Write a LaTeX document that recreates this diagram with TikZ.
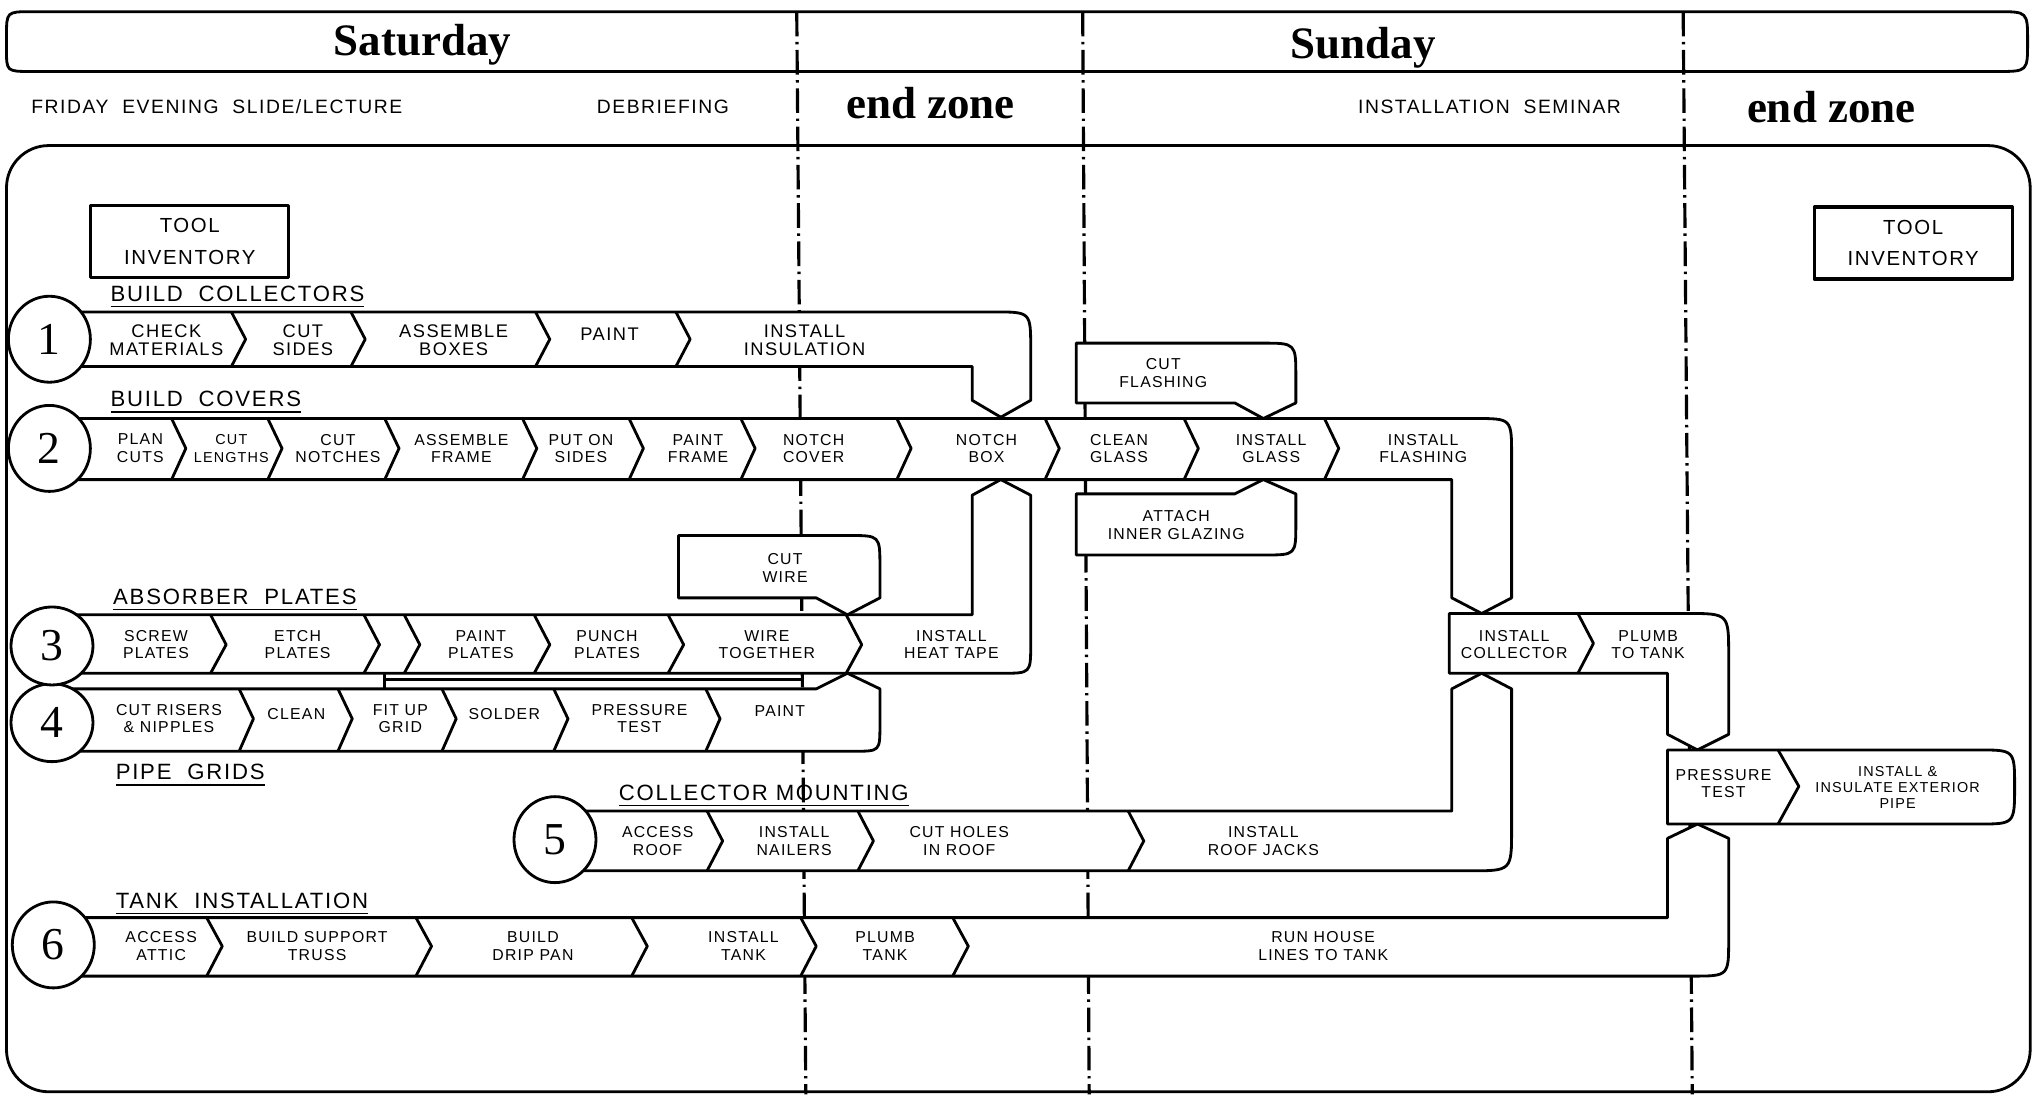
\documentclass[tikz,border=0pt]{standalone}
\usepackage{fontspec}
\usetikzlibrary{shapes.geometric}
\newfontfamily\handfont[LetterSpace=8]{Liberation Sans}
\newfontfamily\dayfont{Liberation Serif}

\begin{document}
\begin{tikzpicture}[x=0.013cm, y=-0.013cm, line width=0.8pt, line join=round,
  band/.style={draw, fill=white},
  zoneline/.style={line width=0.9pt, dash pattern=on 7pt off 1.6pt on 0.7pt off 1.6pt},
  task/.style={font=\handfont\fontsize{4.5}{5}\selectfont, align=center, inner sep=0pt},
  bigtask/.style={task, font=\handfont\fontsize{5.2}{5.1}\selectfont},
  smalltask/.style={task, font=\handfont\fontsize{4.1}{5}\selectfont},
  heading/.style={font=\handfont\fontsize{6.3}{7}\selectfont, anchor=base west, inner sep=0pt},
  toptext/.style={font=\handfont\fontsize{5.5}{7}\selectfont, inner sep=0pt},
  dayname/.style={font=\dayfont\bfseries\fontsize{12.8}{14}\selectfont, anchor=base, inner sep=0pt},
  num/.style={draw, fill=white, ellipse, minimum width=0.82cm, minimum height=0.86cm,
              inner sep=0pt, font=\dayfont\fontsize{13}{13}\selectfont},
  tool/.style={draw, line width=0.9pt, minimum width=1.98cm, minimum height=0.72cm,
               align=center, font=\handfont\fontsize{5.8}{9}\selectfont}]
\useasboundingbox (0,0) rectangle (1568,842);
% day band and work area
\draw (24,9) -- (1537,9) .. controls (1560,9) .. (1560,32) .. controls (1560,55) .. (1537,55)
  -- (24,55) .. controls (5,55) .. (5,38) -- (5,28) .. controls (5,9) .. (24,9) -- cycle;
\draw[rounded corners=12pt] (5,112) rectangle (1562,840);
\foreach \a/\b in {613/620, 833/838, 1295/1302}
  \draw[zoneline] (\a,9) -- (\b,842);
\node[dayname] (sat) at (325,43) {Saturday};
\node[dayname] (sun) at (1049,45) {Sunday};
\node[dayname] (endzone1) at (716,91) {end zone};
\node[dayname] (endzone2) at (1409,94) {end zone};
\node[toptext, anchor=west] (friday) at (23,82) {FRIDAY~~EVENING~~SLIDE/LECTURE};
\node[toptext] (debrief) at (510,82) {DEBRIEFING};
\node[toptext] (seminar) at (1146,82) {INSTALLATION~~SEMINAR};
\node[tool] (toolL) at (146,186) {TOOL\\INVENTORY};
\node[tool] (toolR) at (1472,187) {TOOL\\INVENTORY};

% bands
\draw[band] (38,322) -- (1135,322) .. controls (1163,322) .. (1163,350) -- (1163,460)
  -- (1140,472) -- (1117,460) -- (1117,369) -- (38,369) -- cycle;
\draw[band] (38,240) -- (765,240) .. controls (793,240) .. (793,268) -- (793,308)
  -- (770,321) -- (748,308) -- (748,282) -- (38,282) -- cycle;
\draw[band] (40,473) -- (748,473) -- (748,381) -- (770,369) -- (793,381) -- (793,496)
  .. controls (793,518) .. (771,518) -- (40,518) -- cycle;
\draw[band] (40,530) -- (628,530) -- (652,518) -- (677,530) -- (677,558)
  .. controls (677,578) .. (657,578) -- (40,578) -- cycle;
\draw (296,518) -- (296,530) (296,523) -- (618,523);
\draw[band] (522,412) -- (653,412) .. controls (677,412) .. (677,436) -- (677,460)
  -- (652,473) -- (628,460) -- (522,460) -- cycle;
\draw[band] (828,264) -- (971,264) .. controls (997,264) .. (997,290) -- (997,310)
  -- (972,322) -- (950,310) -- (828,310) -- cycle;
\draw[band] (828,380) -- (950,380) -- (972,369) -- (997,380) -- (997,403)
  .. controls (997,427) .. (973,427) -- (828,427) -- cycle;
\draw[band] (427,624) -- (1117,624) -- (1117,530) -- (1140,518) -- (1163,530) -- (1163,638)
  .. controls (1163,670) .. (1131,670) -- (427,670) -- cycle;
\draw[band] (40,706) -- (1283,706) -- (1283,645) -- (1306,634) -- (1330,645) -- (1330,723)
  .. controls (1330,751) .. (1302,751) -- (40,751) -- cycle;
\draw[band] (1115,472) -- (1298,472) .. controls (1330,472) .. (1330,504) -- (1330,565)
  -- (1306,577) -- (1283,565) -- (1283,518) -- (1115,518) -- cycle;
\draw[band] (1283,577) -- (1522,577) .. controls (1550,577) .. (1550,605)
  .. controls (1550,634) .. (1522,634) -- (1283,634) -- cycle;

% chevrons between tasks
\foreach \x in {178,270,412,520}
  \draw (\x,240) -- (\x+11,261) -- (\x,282);
\foreach \x in {132,206,296,402,484,570,690,804,911,1019}
  \draw (\x,322) -- (\x+11,345) -- (\x,369);
\foreach \x in {162,280,311,411,514,651}
  \draw (\x,473) -- (\x+12,496) -- (\x,518);
\foreach \x in {184,260,340,426,543}
  \draw (\x,530) -- (\x+11,553) -- (\x,578);
\foreach \x in {544,660,868}
  \draw (\x,624) -- (\x+12,647) -- (\x,670);
\foreach \x in {159,320,486,616,733}
  \draw (\x,706) -- (\x+12,728) -- (\x,751);
\draw (1214,472) -- (1226,495) -- (1214,518);
\draw (1368,577) -- (1384,605) -- (1368,634);

% numbers and headings
\node[num] (c1) at (38,261) {1};
\node[num] (c2) at (38,345) {2};
\node[num, minimum height=0.78cm] (c4) at (40,556) {4};
\node[num, minimum height=0.78cm] (c3) at (40,497) {3};
\node[num] (c5) at (427,646) {5};
\node[num] (c6) at (41,727) {6};
\foreach \n/\x/\y/\t in {bc/84/232/BUILD~~COLLECTORS, bv/84/313/BUILD~~COVERS,
    ab/86/465/ABSORBER~~PLATES, pg/88/600/PIPE~~GRIDS,
    cm/475/616/COLLECTOR~MOUNTING, ti/88/699/TANK~~INSTALLATION}
  \node[heading] (h\n) at (\x,\y) {\underline{\t}};

% tasks
\foreach \n/\x/\y/\t in {a/128/262/{CHECK\\MATERIALS}, b/233/262/{CUT\\SIDES},
    c/349/262/{ASSEMBLE\\BOXES}, d/469/257/PAINT, e/619/262/{INSTALL\\INSULATION}}
  \node[bigtask] (r1\n) at (\x,\y) {\t};
\foreach \n/\x/\t in {a/108/{PLAN\\CUTS}, c/260/{CUT\\NOTCHES},
    d/355/{ASSEMBLE\\FRAME}, e/447/{PUT ON\\SIDES}, f/537/{PAINT\\FRAME},
    g/626/{NOTCH\\COVER}, h/759/{NOTCH\\BOX}, i/861/{CLEAN\\GLASS},
    j/978/{INSTALL\\GLASS}, k/1095/{INSTALL\\FLASHING}}
  \node[task] (r2\n) at (\x,345) {\t};
\node[smalltask] (r2b) at (178,345) {CUT\\LENGTHS};
\foreach \n/\x/\t in {a/120/{SCREW\\PLATES}, b/229/{ETCH\\PLATES}, c/370/{PAINT\\PLATES},
    d/467/{PUNCH\\PLATES}, e/590/{WIRE\\TOGETHER}, f/732/{INSTALL\\HEAT TAPE}}
  \node[task] (r3\n) at (\x,496) {\t};
\foreach \n/\x/\y/\t in {a/130/553/{CUT RISERS\\\& NIPPLES}, b/228/549/CLEAN,
    c/308/553/{FIT UP\\GRID}, d/388/549/SOLDER, e/492/553/{PRESSURE\\TEST}, f/600/547/PAINT}
  \node[task] (r4\n) at (\x,\y) {\t};
\foreach \n/\x/\t in {a/506/{ACCESS\\ROOF}, b/611/{INSTALL\\NAILERS},
    c/738/{CUT HOLES\\IN ROOF}, d/972/{INSTALL\\ROOF JACKS}}
  \node[task] (r5\n) at (\x,647) {\t};
\foreach \n/\x/\t in {a/124/{ACCESS\\ATTIC}, b/244/{BUILD SUPPORT\\TRUSS},
    c/410/{BUILD\\DRIP PAN}, d/572/{INSTALL\\TANK}, e/681/{PLUMB\\TANK},
    f/1018/{RUN HOUSE\\LINES TO TANK}}
  \node[task] (r6\n) at (\x,728) {\t};
\node[task] (cutwire) at (604,437) {CUT\\WIRE};
\node[task] (cutflash) at (895,287) {CUT\\FLASHING};
\node[task] (glazing) at (905,404) {ATTACH\\INNER GLAZING};
\node[task] (instcoll) at (1165,496) {INSTALL\\COLLECTOR};
\node[task] (plumb) at (1268,496) {PLUMB\\TO TANK};
\node[task] (prtest) at (1326,603) {PRESSURE\\TEST};
\node[task, font=\handfont\fontsize{4.1}{4.5}\selectfont] (extpipe) at (1460,606)
  {INSTALL \&\\INSULATE EXTERIOR\\PIPE};
\end{tikzpicture}
\end{document}
